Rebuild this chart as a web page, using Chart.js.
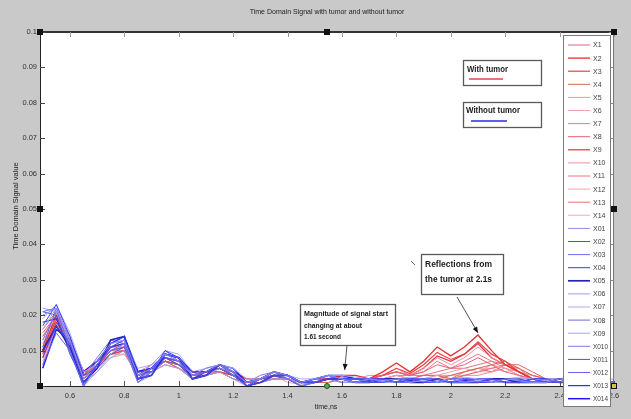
<!DOCTYPE html>
<html>
<head>
<meta charset="utf-8">
<script src="https://cdn.jsdelivr.net/npm/chart.js@4"></script>
<style>
  html, body { margin: 0; padding: 0; background: #c9c9c9; }
  #wrap { position: relative; width: 631px; height: 419px; }
</style>
</head>
<body>
<div id="wrap"><canvas id="c"></canvas></div>
<script>
// Sample times (ns)
const times = [0.50,0.55,0.60,0.65,0.70,0.75,0.80,0.85,0.90,0.95,1.00,1.05,1.10,1.15,1.20,1.25,1.30,1.35,1.40,1.45,1.50,1.55,1.60,
               1.65,1.70,1.75,1.80,1.85,1.90,1.95,2.00,2.05,2.10,2.15,2.20,2.25,2.30,2.35,2.40,2.45,2.50,2.55,2.60];

// Signals recorded with tumor
const x1  = [0.014,0.019,0.012,0.003,0.006,0.010,0.011,0.003,0.004,0.007,0.006,0.003,0.003,0.005,0.003,0.001,0.002,0.003,0.002,0.001,0.001,0.002,0.002,
             0.002,0.002,0.003,0.004,0.003,0.004,0.006,0.005,0.006,0.008,0.006,0.004,0.003,0.002,0.001,0.001,0.002,0.001,0.001,0.001];
const x2  = [0.010,0.020,0.013,0.004,0.007,0.011,0.012,0.004,0.005,0.008,0.007,0.004,0.004,0.005,0.004,0.002,0.002,0.004,0.003,0.001,0.002,0.002,0.003,
             0.003,0.002,0.004,0.0065,0.004,0.007,0.011,0.0085,0.011,0.0144,0.010,0.006,0.004,0.002,0.0015,0.001,0.002,0.001,0.001,0.001];
const x3  = [0.008,0.018,0.012,0.003,0.006,0.009,0.010,0.003,0.005,0.007,0.006,0.003,0.004,0.004,0.003,0.001,0.002,0.003,0.002,0.001,0.001,0.002,0.003,
             0.002,0.002,0.003,0.005,0.0035,0.006,0.0095,0.0075,0.009,0.0125,0.009,0.007,0.004,0.002,0.001,0.001,0.0015,0.001,0.001,0.001];
const x4  = [0.016,0.021,0.011,0.002,0.005,0.009,0.010,0.002,0.004,0.007,0.005,0.002,0.003,0.004,0.002,0.001,0.001,0.002,0.002,0.001,0.001,0.001,0.002,
             0.001,0.001,0.002,0.002,0.001,0.002,0.002,0.003,0.004,0.005,0.006,0.007,0.005,0.003,0.002,0.001,0.001,0.001,0.0005,0.001];
const x5  = [0.006,0.017,0.011,0.004,0.007,0.010,0.010,0.004,0.006,0.008,0.006,0.003,0.004,0.005,0.003,0.002,0.002,0.003,0.002,0.001,0.002,0.002,0.002,
             0.002,0.003,0.003,0.005,0.003,0.005,0.008,0.006,0.008,0.011,0.008,0.006,0.004,0.003,0.002,0.001,0.002,0.001,0.001,0.001];
const x6  = [0.012,0.019,0.010,0.002,0.006,0.008,0.009,0.003,0.004,0.006,0.005,0.002,0.003,0.004,0.002,0.001,0.001,0.003,0.001,0.0005,0.001,0.002,0.003,
             0.002,0.001,0.002,0.003,0.002,0.002,0.003,0.004,0.005,0.004,0.006,0.005,0.003,0.002,0.001,0.001,0.001,0.001,0.001,0.0005];
const x7  = [0.010,0.018,0.013,0.003,0.007,0.011,0.011,0.004,0.005,0.008,0.007,0.004,0.004,0.005,0.003,0.001,0.002,0.003,0.002,0.001,0.001,0.002,0.0025,
             0.002,0.002,0.003,0.004,0.003,0.004,0.007,0.005,0.007,0.009,0.007,0.005,0.003,0.002,0.001,0.001,0.002,0.001,0.001,0.001];
const x8  = [0.015,0.020,0.012,0.003,0.006,0.010,0.010,0.003,0.004,0.007,0.006,0.003,0.003,0.004,0.003,0.001,0.002,0.002,0.002,0.001,0.001,0.002,0.002,
             0.001,0.001,0.002,0.002,0.002,0.003,0.003,0.002,0.003,0.004,0.005,0.006,0.006,0.004,0.002,0.001,0.001,0.001,0.001,0.001];
const x9  = [0.009,0.019,0.012,0.004,0.006,0.010,0.011,0.003,0.005,0.008,0.006,0.003,0.004,0.005,0.003,0.001,0.002,0.003,0.002,0.001,0.001,0.002,0.002,
             0.002,0.002,0.003,0.004,0.003,0.005,0.0085,0.007,0.009,0.012,0.008,0.006,0.004,0.002,0.0015,0.001,0.001,0.001,0.001,0.001];
const x10 = [0.013,0.018,0.011,0.003,0.005,0.009,0.009,0.003,0.004,0.006,0.005,0.003,0.003,0.004,0.002,0.001,0.001,0.002,0.002,0.001,0.001,0.001,0.002,
             0.001,0.001,0.002,0.002,0.001,0.002,0.002,0.002,0.003,0.003,0.004,0.005,0.004,0.003,0.002,0.002,0.003,0.002,0.001,0.001];
const x11 = [0.011,0.020,0.012,0.002,0.006,0.010,0.011,0.003,0.005,0.007,0.006,0.003,0.004,0.004,0.002,0.001,0.002,0.003,0.002,0.001,0.001,0.002,0.002,
             0.002,0.002,0.002,0.003,0.003,0.003,0.004,0.005,0.005,0.006,0.007,0.006,0.004,0.002,0.001,0.001,0.001,0.001,0.001,0.001];
const x12 = [0.007,0.017,0.012,0.003,0.007,0.010,0.010,0.004,0.005,0.007,0.006,0.004,0.004,0.005,0.003,0.001,0.002,0.003,0.002,0.001,0.001,0.002,0.002,
             0.001,0.001,0.002,0.003,0.002,0.003,0.003,0.003,0.004,0.005,0.005,0.004,0.005,0.003,0.002,0.001,0.001,0.001,0.001,0.001];
const x13 = [0.014,0.020,0.011,0.003,0.006,0.009,0.010,0.002,0.004,0.007,0.005,0.003,0.003,0.004,0.003,0.001,0.001,0.002,0.002,0.001,0.001,0.002,0.002,
             0.001,0.002,0.002,0.003,0.002,0.002,0.003,0.002,0.004,0.005,0.004,0.006,0.005,0.002,0.001,0.001,0.001,0.001,0.001,0.001];
const x14 = [0.012,0.019,0.013,0.003,0.006,0.010,0.011,0.003,0.005,0.008,0.006,0.003,0.004,0.005,0.003,0.001,0.002,0.003,0.002,0.001,0.002,0.002,0.003,
             0.002,0.001,0.002,0.002,0.002,0.003,0.003,0.003,0.003,0.004,0.004,0.005,0.003,0.002,0.001,0.001,0.002,0.001,0.001,0.001];

// Signals recorded without tumor
const x01  = [0.020,0.022,0.013,0.002,0.007,0.012,0.013,0.003,0.005,0.009,0.007,0.003,0.005,0.006,0.004,0.001,0.002,0.004,0.003,0.001,0.002,0.003,0.002,
              0.001,0.002,0.0015,0.002,0.001,0.0015,0.001,0.002,0.001,0.0015,0.001,0.002,0.0015,0.001,0.001,0.002,0.001,0.001,0.0015,0.001];
const x02  = [0.008,0.017,0.012,0.001,0.006,0.011,0.013,0.002,0.003,0.008,0.007,0.002,0.003,0.006,0.004,0.000,0.001,0.003,0.003,0.001,0.001,0.002,0.002,
              0.002,0.001,0.001,0.002,0.002,0.001,0.001,0.002,0.001,0.001,0.002,0.001,0.001,0.002,0.001,0.001,0.001,0.001,0.002,0.001];
const x03  = [0.021,0.022,0.010,0.000,0.006,0.010,0.012,0.001,0.004,0.009,0.008,0.003,0.004,0.006,0.003,0.000,0.002,0.004,0.002,0.000,0.001,0.003,0.002,
              0.001,0.001,0.002,0.001,0.001,0.002,0.002,0.001,0.001,0.002,0.002,0.001,0.001,0.001,0.002,0.001,0.001,0.002,0.001,0.001];
const x04  = [0.017,0.023,0.014,0.003,0.005,0.012,0.014,0.004,0.004,0.010,0.008,0.004,0.004,0.006,0.004,0.001,0.002,0.004,0.003,0.001,0.002,0.003,0.002,
              0.002,0.002,0.002,0.001,0.002,0.002,0.001,0.002,0.002,0.001,0.001,0.002,0.002,0.001,0.001,0.002,0.001,0.001,0.001,0.001];
const x05  = [0.010,0.017,0.011,0.001,0.005,0.013,0.014,0.002,0.003,0.009,0.008,0.002,0.003,0.006,0.004,0.000,0.001,0.003,0.003,0.001,0.001,0.002,0.002,
              0.001,0.001,0.002,0.002,0.001,0.001,0.002,0.001,0.001,0.001,0.002,0.002,0.001,0.001,0.001,0.002,0.001,0.001,0.001,0.001];
const x06  = [0.022,0.021,0.011,0.001,0.004,0.008,0.010,0.002,0.004,0.006,0.005,0.002,0.003,0.004,0.002,0.000,0.001,0.002,0.002,0.001,0.001,0.002,0.001,
              0.001,0.001,0.001,0.001,0.002,0.001,0.001,0.001,0.002,0.001,0.001,0.001,0.002,0.001,0.001,0.001,0.001,0.001,0.001,0.001];
const x07  = [0.019,0.023,0.015,0.004,0.006,0.012,0.013,0.005,0.006,0.010,0.009,0.004,0.005,0.006,0.005,0.002,0.002,0.004,0.003,0.002,0.002,0.003,0.003,
              0.0025,0.002,0.0015,0.002,0.0025,0.002,0.0015,0.002,0.0025,0.002,0.0015,0.002,0.0025,0.002,0.0015,0.002,0.002,0.0015,0.002,0.002];
const x08  = [0.006,0.015,0.010,0.002,0.006,0.010,0.011,0.002,0.005,0.007,0.006,0.003,0.004,0.005,0.003,0.001,0.002,0.003,0.002,0.001,0.001,0.002,0.002,
              0.001,0.002,0.002,0.001,0.001,0.002,0.002,0.001,0.001,0.002,0.001,0.001,0.002,0.002,0.001,0.001,0.001,0.002,0.001,0.001];
const x09  = [0.016,0.022,0.012,0.000,0.004,0.009,0.012,0.001,0.003,0.008,0.007,0.002,0.003,0.005,0.004,0.000,0.001,0.003,0.003,0.000,0.001,0.002,0.002,
              0.001,0.001,0.001,0.002,0.001,0.001,0.001,0.002,0.001,0.001,0.001,0.001,0.002,0.001,0.001,0.001,0.002,0.001,0.001,0.001];
const x010 = [0.013,0.021,0.014,0.003,0.008,0.013,0.012,0.003,0.006,0.010,0.007,0.003,0.005,0.006,0.003,0.001,0.003,0.004,0.002,0.001,0.002,0.003,0.002,
              0.002,0.002,0.001,0.002,0.002,0.002,0.001,0.001,0.002,0.002,0.001,0.002,0.001,0.001,0.002,0.002,0.001,0.001,0.002,0.001];
const x011 = [0.021,0.020,0.009,0.001,0.005,0.009,0.011,0.001,0.004,0.008,0.006,0.002,0.004,0.005,0.003,0.000,0.002,0.003,0.002,0.000,0.001,0.002,0.002,
              0.001,0.001,0.002,0.001,0.001,0.001,0.002,0.001,0.001,0.002,0.001,0.001,0.001,0.002,0.001,0.001,0.001,0.001,0.002,0.001];
const x012 = [0.011,0.022,0.013,0.002,0.007,0.011,0.013,0.003,0.004,0.009,0.008,0.003,0.004,0.006,0.004,0.001,0.002,0.004,0.003,0.001,0.002,0.003,0.002,
              0.002,0.002,0.001,0.001,0.002,0.002,0.002,0.001,0.001,0.001,0.002,0.002,0.001,0.001,0.001,0.001,0.002,0.001,0.001,0.001];
const x013 = [0.018,0.019,0.010,0.000,0.006,0.011,0.012,0.002,0.005,0.008,0.007,0.002,0.004,0.005,0.003,0.000,0.002,0.003,0.002,0.000,0.001,0.002,0.001,
              0.001,0.0015,0.001,0.001,0.0015,0.002,0.001,0.001,0.0015,0.002,0.001,0.001,0.0015,0.001,0.001,0.001,0.0015,0.001,0.001,0.001];
const x014 = [0.005,0.016,0.013,0.004,0.007,0.012,0.014,0.004,0.005,0.009,0.008,0.004,0.004,0.006,0.005,0.001,0.002,0.004,0.003,0.001,0.002,0.003,0.003,
              0.002,0.002,0.002,0.001,0.002,0.002,0.002,0.001,0.002,0.002,0.002,0.001,0.001,0.002,0.002,0.001,0.001,0.002,0.001,0.001];

const tumorLabels   = ['X1','X2','X3','X4','X5','X6','X7','X8','X9','X10','X11','X12','X13','X14'];
const tumorSeries   = [x1,x2,x3,x4,x5,x6,x7,x8,x9,x10,x11,x12,x13,x14];
const healthyLabels = ['X01','X02','X03','X04','X05','X06','X07','X08','X09','X010','X011','X012','X013','X014'];
const healthySeries = [x01,x02,x03,x04,x05,x06,x07,x08,x09,x010,x011,x012,x013,x014];

const xTickStep = 0.2;
const yTickStep = 0.01;

// Line styling
const tumorColors = ['#e8607c','#e83030','#e84040','#d06a52','#f08ea0','#f4a0aa','#ee7888','#e86070',
                     '#e03040','#f09098','#e87080','#f0a0aa','#e87070','#f4b0b8'];
const tumorWidths = [1,1.3,1.2,1,1,1,1,1,1.2,1,1,1,1,1];
const healthyColors = ['#8c8cf0','#4c4cf0','#6a6aff','#3c3cf0','#2424b4','#9c9cf4','#acacf4','#6a6ad0',
                       '#a4a4ee','#7a7af0','#5050c8','#6464ec','#2e2ee0','#1a1aff'];
const healthyWidths = [1,1,1,1,1.7,1,1,1,1,1,1,1,1.2,1.5];

const FONT = '"Liberation Sans", Arial, sans-serif';
const NARROW = '"Liberation Sans Narrow", "Liberation Sans", Arial, sans-serif';

function toPoints(vals) { return times.map((t, i) => ({ x: t, y: vals[i] })); }

const datasets = [];
healthySeries.forEach((s, i) => datasets.push({
  label: healthyLabels[i], data: toPoints(s), borderColor: healthyColors[i],
  borderWidth: healthyWidths[i], order: 0
}));
tumorSeries.forEach((s, i) => datasets.push({
  label: tumorLabels[i], data: toPoints(s), borderColor: tumorColors[i],
  borderWidth: tumorWidths[i], order: 1
}));
// legend order: tumor entries first, then the rest
const legendOrder = [...tumorLabels, ...healthyLabels];

// draw text squeezed to a target width if it would be wider
function fitText(ctx, text, x, y, maxW) {
  const w = ctx.measureText(text).width;
  if (maxW && w > maxW) {
    ctx.save();
    ctx.translate(x, y);
    ctx.scale(maxW / w, 1);
    ctx.fillText(text, 0, 0);
    ctx.restore();
  } else {
    ctx.fillText(text, x, y);
  }
}

function arrow(ctx, x0, y0, x1, y1) {
  ctx.strokeStyle = '#555';
  ctx.lineWidth = 1;
  ctx.beginPath(); ctx.moveTo(x0, y0); ctx.lineTo(x1, y1); ctx.stroke();
  const a = Math.atan2(y1 - y0, x1 - x0);
  ctx.fillStyle = '#111';
  ctx.beginPath();
  ctx.moveTo(x1, y1);
  ctx.lineTo(x1 - 6 * Math.cos(a) + 2.5 * Math.sin(a), y1 - 6 * Math.sin(a) - 2.5 * Math.cos(a));
  ctx.lineTo(x1 - 6 * Math.cos(a) - 2.5 * Math.sin(a), y1 - 6 * Math.sin(a) + 2.5 * Math.cos(a));
  ctx.closePath(); ctx.fill();
}

function noteBox(ctx, x0, y0, x1, y1) {
  ctx.fillStyle = '#ffffff';
  ctx.fillRect(x0, y0, x1 - x0, y1 - y0);
  ctx.strokeStyle = '#5a5a5a';
  ctx.lineWidth = 1.3;
  ctx.strokeRect(x0 + 0.5, y0 + 0.5, x1 - x0, y1 - y0);
}

const plotBackground = {
  id: 'plotBackground',
  beforeDatasetsDraw(chart) {
    const { ctx, chartArea: a } = chart;
    ctx.save();
    ctx.fillStyle = '#ffffff';
    ctx.fillRect(a.left, a.top, a.right - a.left, a.bottom - a.top);
    ctx.restore();
  }
};

const decorations = {
  id: 'decorations',
  afterDatasetsDraw(chart) {
    const { ctx, chartArea: a } = chart;
    const xs = chart.scales.x, ys = chart.scales.y;
    ctx.save();

    // axes box
    ctx.strokeStyle = '#222'; ctx.lineWidth = 1;
    ctx.beginPath();
    ctx.moveTo(a.left + 0.5, a.top); ctx.lineTo(a.left + 0.5, a.bottom + 0.5);
    ctx.lineTo(a.right, a.bottom + 0.5);
    ctx.stroke();
    ctx.strokeStyle = '#777';
    ctx.beginPath(); ctx.moveTo(a.right - 0.5, a.top); ctx.lineTo(a.right - 0.5, a.bottom); ctx.stroke();
    ctx.strokeStyle = '#333'; ctx.lineWidth = 2;
    ctx.beginPath(); ctx.moveTo(a.left, a.top); ctx.lineTo(a.right, a.top); ctx.stroke();

    // inward tick marks
    ctx.lineWidth = 1;
    xs.ticks.forEach(t => {
      const px = Math.round(xs.getPixelForValue(t.value)) + 0.5;
      ctx.strokeStyle = '#555';
      ctx.beginPath(); ctx.moveTo(px, a.bottom); ctx.lineTo(px, a.bottom - 5); ctx.stroke();
      ctx.strokeStyle = '#999';
      ctx.beginPath(); ctx.moveTo(px, a.top); ctx.lineTo(px, a.top + 5); ctx.stroke();
    });
    ys.ticks.forEach(t => {
      const py = Math.round(ys.getPixelForValue(t.value)) + 0.5;
      ctx.strokeStyle = '#444';
      ctx.beginPath(); ctx.moveTo(a.left, py); ctx.lineTo(a.left + 5, py); ctx.stroke();
      ctx.strokeStyle = '#888';
      ctx.beginPath(); ctx.moveTo(a.right, py); ctx.lineTo(a.right - 5, py); ctx.stroke();
    });

    // callout: onset of change
    noteBox(ctx, 300, 304, 395, 345);
    ctx.fillStyle = '#1a1a1a';
    ctx.font = 'bold 7.5px ' + NARROW;
    ctx.textBaseline = 'middle';
    fitText(ctx, 'Magnitude of signal start', 304, 313.5, 84);
    fitText(ctx, 'changing at about', 304, 325.5, 58);
    fitText(ctx, '1.61 second', 304, 337, 37);
    arrow(ctx, 347, 345, xs.getPixelForValue(1.61), ys.getPixelForValue(0.0045));

    // callout: reflections
    noteBox(ctx, 421, 254, 503, 294);
    ctx.fillStyle = '#1a1a1a';
    ctx.font = 'bold 9px ' + NARROW;
    fitText(ctx, 'Reflections from', 425, 265, 67);
    fitText(ctx, 'the tumor at 2.1s', 425, 280, 67);
    arrow(ctx, 457, 297, xs.getPixelForValue(2.1), ys.getPixelForValue(0.0150));
    ctx.strokeStyle = '#666'; ctx.lineWidth = 1;
    ctx.beginPath(); ctx.moveTo(411, 261); ctx.lineTo(415, 265); ctx.stroke();

    // group keys
    noteBox(ctx, 463, 60, 541, 85);
    ctx.fillStyle = '#1a1a1a';
    ctx.font = 'bold 9px ' + NARROW;
    fitText(ctx, 'With tumor', 467, 70, 41);
    ctx.strokeStyle = '#e04848'; ctx.lineWidth = 1.5;
    ctx.beginPath(); ctx.moveTo(469, 79); ctx.lineTo(503, 79); ctx.stroke();

    noteBox(ctx, 463, 102, 541, 127);
    ctx.fillStyle = '#1a1a1a';
    fitText(ctx, 'Without tumor', 466, 111, 54);
    ctx.strokeStyle = '#2a2ae0'; ctx.lineWidth = 1.5;
    ctx.beginPath(); ctx.moveTo(471, 121); ctx.lineTo(507, 121); ctx.stroke();

    // legend
    ctx.fillStyle = '#ffffff';
    ctx.fillRect(563, 35, 47, 371);
    ctx.strokeStyle = '#7a7a7a'; ctx.lineWidth = 1;
    ctx.strokeRect(563.5, 35.5, 47, 371);
    ctx.font = '7px ' + FONT;
    ctx.textBaseline = 'middle';
    legendOrder.forEach((lab, i) => {
      const ds = chart.data.datasets.find(d => d.label === lab);
      const yy = 45 + i * 13.1;
      ctx.strokeStyle = ds.borderColor;
      ctx.lineWidth = Math.max(1, ds.borderWidth);
      ctx.beginPath(); ctx.moveTo(568, yy); ctx.lineTo(590, yy); ctx.stroke();
      ctx.fillStyle = '#444';
      fitText(ctx, lab, 593, yy + 0.5, 15);
    });

    // selection handles
    const handles = [[a.left, a.top], [(a.left + a.right) / 2, a.top], [a.right, a.top],
                     [a.left, (a.top + a.bottom) / 2], [a.right, (a.top + a.bottom) / 2],
                     [a.left, a.bottom], [a.right, a.bottom]];
    handles.forEach(([hx, hy], i) => {
      ctx.fillStyle = (i === handles.length - 1) ? '#d8c040' : '#111';
      ctx.fillRect(Math.round(hx) - 2.5, Math.round(hy) - 2.5, 5, 5);
      ctx.strokeStyle = '#111'; ctx.lineWidth = 1;
      ctx.strokeRect(Math.round(hx) - 2.5, Math.round(hy) - 2.5, 5, 5);
    });
    ctx.fillStyle = '#4caf50'; ctx.strokeStyle = '#225522';
    ctx.beginPath(); ctx.arc((a.left + a.right) / 2, a.bottom, 2.5, 0, Math.PI * 2); ctx.fill(); ctx.stroke();

    // titles
    ctx.fillStyle = '#222';
    ctx.font = '7px ' + FONT;
    ctx.textAlign = 'center';
    fitText(ctx, 'Time Domain Signal with tumor and without tumor', (a.left + a.right) / 2, 12, 156);
    fitText(ctx, 'time,ns', 326, 407, 26);
    ctx.save();
    ctx.translate(16, 206);
    ctx.rotate(-Math.PI / 2);
    ctx.font = '7.5px ' + FONT;
    fitText(ctx, 'Time Domain Signal value', 0, 0, 108);
    ctx.restore();

    ctx.restore();
  }
};

new Chart(document.getElementById('c'), {
  type: 'line',
  data: { datasets },
  options: {
    responsive: true,
    maintainAspectRatio: false,
    animation: false,
    events: [],
    layout: { padding: { left: 0, top: 32, right: 17, bottom: 13 } },
    elements: { point: { radius: 0 }, line: { tension: 0 } },
    plugins: { legend: { display: false }, tooltip: { enabled: false }, title: { display: false } },
    scales: {
      x: {
        type: 'linear', min: 0.49, max: 2.6,
        afterFit: s => { s.height = 20; },
        grid: { display: false, drawTicks: false },
        border: { display: false },
        ticks: {
          stepSize: xTickStep, includeBounds: false, padding: 5, maxRotation: 0, autoSkip: false,
          color: '#333', font: { family: FONT, size: 7.5 },
          callback: v => String(Math.round(v * 10) / 10)
        }
      },
      y: {
        min: 0, max: 0.1,
        afterFit: s => { s.width = 40; },
        grid: { display: false, drawTicks: false },
        border: { display: false },
        ticks: {
          stepSize: yTickStep, padding: 3,
          color: '#333', font: { family: FONT, size: 7.5 },
          callback: v => (Math.abs(v) < 1e-9 ? '' : String(Math.round(v * 100) / 100))
        }
      }
    }
  },
  plugins: [plotBackground, decorations]
});
</script>
</body>
</html>
